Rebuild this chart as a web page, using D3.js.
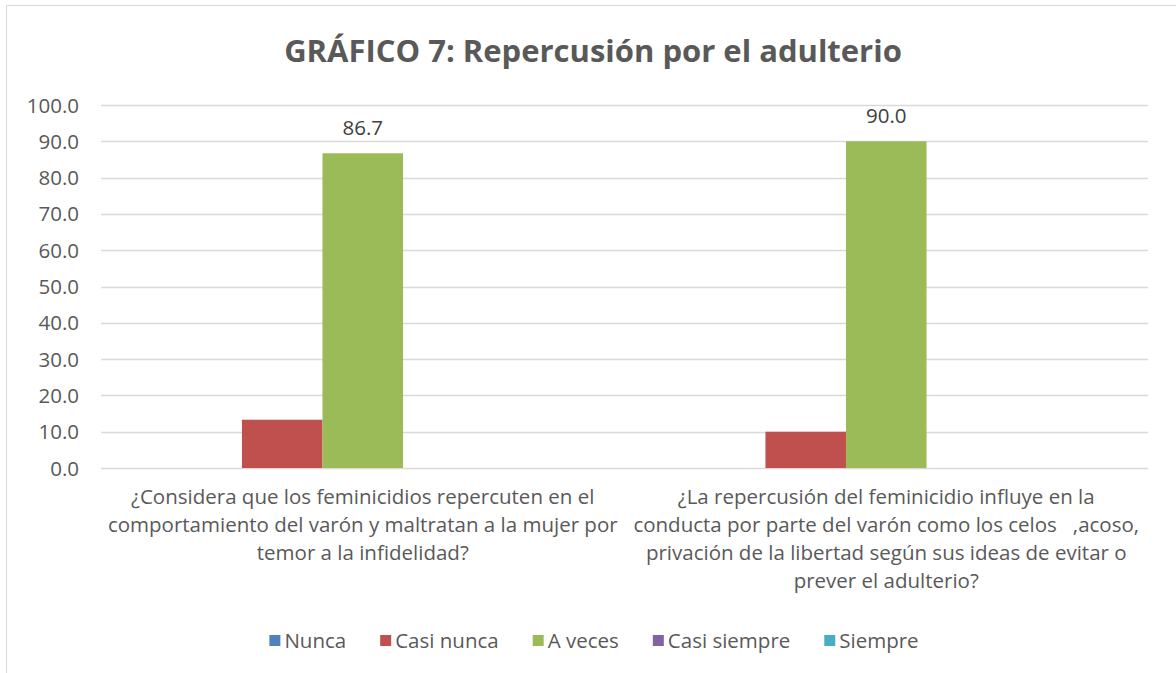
<!DOCTYPE html>
<html>
<head>
<meta charset="utf-8">
<script src="https://cdn.jsdelivr.net/npm/d3@7"></script>
<style>
  body { margin: 0; background: #fff; }
  svg text { font-family: "Open Sans", "Noto Sans", sans-serif; fill: #595959; white-space: pre; }
</style>
</head>
<body>
<div id="chart"></div>
<script>
// data
var categories = [
  ["¿Considera que los feminicidios repercuten en el",
   "comportamiento del varón y maltratan a la mujer por",
   "temor a la infidelidad?"],
  ["¿La repercusión del feminicidio influye en la",
   "conducta por parte del varón como los celos   ,acoso,",
   "privación de la libertad según sus ideas de evitar o",
   "prever el adulterio?"]
];
var seriesNames = ["Nunca", "Casi nunca", "A veces", "Casi siempre", "Siempre"];
var nunca = [0, 0];
var casiNunca = [13.3, 10.0];
var aVeces = [86.7, 90.0];
var casiSiempre = [0, 0];
var siempre = [0, 0];
var yTicks = [0, 10, 20, 30, 40, 50, 60, 70, 80, 90, 100];
var colors = ["#4F81BD", "#C0504D", "#9BBB59", "#8064A2", "#4BACC6"];

var values = [nunca, casiNunca, aVeces, casiSiempre, siempre];
var labelled = [false, false, true, false, false];

var width = 1176, height = 673;
var plot = {left: 101, right: 1148, top: 105, bottom: 468};
var fs = "20.5px";

var svg = d3.select("#chart").append("svg")
    .attr("width", width)
    .attr("height", height);

// chart border (runs off the right/bottom edge in the original)
svg.append("rect")
    .attr("x", 6.5).attr("y", 5.5)
    .attr("width", 1250).attr("height", 750)
    .attr("fill", "none")
    .attr("stroke", "#d9d9d9");

svg.append("text")
    .attr("x", 593).attr("y", 62)
    .attr("text-anchor", "middle")
    .style("font-size", "31px")
    .style("font-weight", "bold")
    .text("GRÁFICO 7: Repercusión por el adulterio");

var x0 = d3.scaleBand()
    .domain(d3.range(categories.length))
    .range([plot.left, plot.right]);

// gap width 150%: outer padding of 0.75 bar on each side
var x1 = d3.scaleBand()
    .domain(d3.range(seriesNames.length))
    .range([0, x0.bandwidth()])
    .paddingOuter(0.75)
    .paddingInner(0);

var y = d3.scaleLinear().domain([0, 100]).range([plot.bottom, plot.top]);

// gridlines
svg.append("g").selectAll("line")
    .data(yTicks)
    .enter().append("line")
    .attr("x1", plot.left).attr("x2", plot.right)
    .attr("y1", function (d) { return Math.round(y(d)) + 0.5; })
    .attr("y2", function (d) { return Math.round(y(d)) + 0.5; })
    .attr("stroke", "#d9d9d9")
    .attr("stroke-width", 1.3);

// y tick labels
svg.append("g").selectAll("text")
    .data(yTicks)
    .enter().append("text")
    .attr("x", 79)
    .attr("y", function (d) { return y(d) + 7.5; })
    .attr("text-anchor", "end")
    .style("font-size", fs)
    .text(function (d) { return d.toFixed(1); });

// bars
var groups = svg.append("g").selectAll("g")
    .data(values)
    .enter().append("g")
    .attr("fill", function (d, i) { return colors[i]; });

groups.each(function (vals, s) {
  d3.select(this).selectAll("rect")
    .data(vals)
    .enter().append("rect")
    .attr("x", function (d, c) { return x0(c) + x1(s); })
    .attr("width", x1.bandwidth())
    .attr("y", function (d) { return y(d); })
    .attr("height", function (d) { return y(0) - y(d); });

  if (labelled[s]) {
    d3.select(this).selectAll("text")
      .data(vals)
      .enter().append("text")
      .attr("x", function (d, c) { return x0(c) + x1(s) + x1.bandwidth() / 2; })
      .attr("y", function (d) { return y(d) - 18; })
      .attr("text-anchor", "middle")
      .style("font-size", fs)
      .style("fill", "#404040")
      .text(function (d) { return d.toFixed(1); });
  }
});

// category labels
svg.append("g").selectAll("text")
    .data(categories)
    .enter().append("text")
    .attr("text-anchor", "middle")
    .style("font-size", fs)
    .each(function (lines, c) {
      var cx = x0(c) + x0.bandwidth() / 2;
      d3.select(this).selectAll("tspan")
        .data(lines)
        .enter().append("tspan")
        .attr("x", cx)
        .attr("y", function (d, i) { return 504 + i * 28; })
        .text(function (d) { return d; });
    });

// legend
var gap = 34;
var legend = svg.append("g");
var items = legend.selectAll("g")
    .data(seriesNames)
    .enter().append("g");
items.append("rect")
    .attr("width", 11).attr("height", 11)
    .attr("y", 635)
    .attr("fill", function (d, i) { return colors[i]; });
items.append("text")
    .attr("x", 15)
    .attr("y", 648)
    .style("font-size", fs)
    .text(function (d) { return d; });
var pos = 0;
items.each(function () {
  var w = this.getBBox().width;
  d3.select(this).attr("transform", "translate(" + pos + ",0)");
  pos += w + gap;
});
var total = pos - gap;
legend.attr("transform", "translate(" + (594 - total / 2) + ",0)");
</script>
</body>
</html>
